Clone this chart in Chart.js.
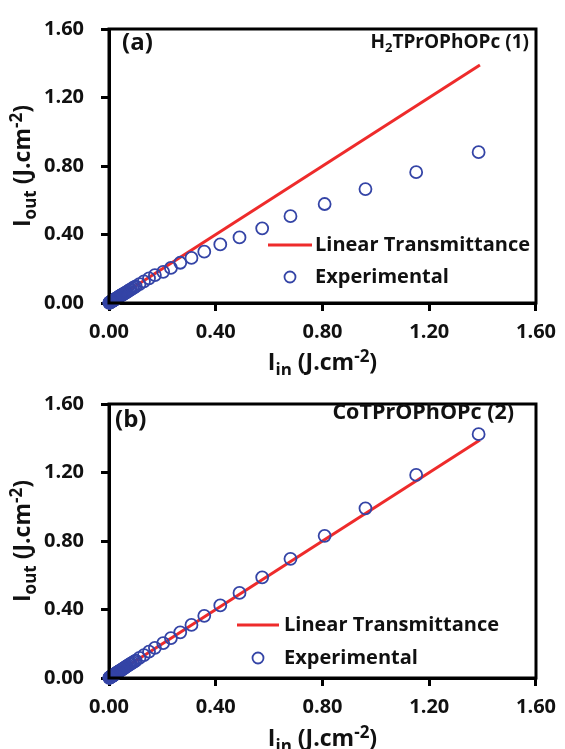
<!DOCTYPE html>
<html>
<head>
<meta charset="utf-8">
<script src="https://cdn.jsdelivr.net/npm/chart.js@4.4.1/dist/chart.umd.min.js"></script>
<style>
  html, body { margin: 0; padding: 0; background: #fff; }
  canvas { display: block; }
</style>
</head>
<body>
<canvas id="chartA" width="565" height="375"></canvas>
<canvas id="chartB" width="565" height="374"></canvas>
<script>
// input fluence (J/cm2), shared by both samples
const inputFluence = [1.385, 1.151, 0.961, 0.808, 0.680, 0.574, 0.489, 0.417, 0.357, 0.309,
  0.267, 0.232, 0.203, 0.172, 0.150, 0.131, 0.114, 0.100, 0.094, 0.088, 0.082, 0.077, 0.072,
  0.067, 0.063, 0.059, 0.055, 0.052, 0.048, 0.045, 0.042, 0.039, 0.036, 0.034, 0.031, 0.029,
  0.027, 0.025, 0.023, 0.021, 0.019, 0.018, 0.016, 0.015, 0.013, 0.012, 0.011, 0.010, 0.009,
  0.008, 0.007, 0.006, 0.005, 0.004, 0.003, 0.002, 0.001];

// output fluence, (a) H2TPrOPhOPc
const outputA = [0.881, 0.764, 0.665, 0.578, 0.507, 0.436, 0.383, 0.342, 0.300, 0.263,
  0.235, 0.205, 0.182, 0.163, 0.144, 0.126, 0.110, 0.097, 0.091, 0.086, 0.080, 0.075, 0.070,
  0.065, 0.061, 0.057, 0.053, 0.050, 0.047, 0.044, 0.041, 0.038, 0.035, 0.033, 0.030, 0.028,
  0.026, 0.024, 0.022, 0.020, 0.018, 0.017, 0.015, 0.014, 0.013, 0.012, 0.011, 0.010, 0.009,
  0.008, 0.007, 0.006, 0.005, 0.004, 0.003, 0.002, 0.001];

// output fluence, (b) CoTPrOPhOPc
const outputB = [1.424, 1.186, 0.991, 0.830, 0.696, 0.588, 0.497, 0.424, 0.363, 0.310,
  0.267, 0.233, 0.204, 0.176, 0.154, 0.134, 0.117, 0.102, 0.096, 0.090, 0.084, 0.079, 0.074,
  0.069, 0.065, 0.060, 0.056, 0.053, 0.049, 0.046, 0.043, 0.040, 0.037, 0.035, 0.032, 0.030,
  0.028, 0.026, 0.024, 0.021, 0.019, 0.018, 0.016, 0.015, 0.013, 0.012, 0.011, 0.010, 0.009,
  0.008, 0.007, 0.006, 0.005, 0.004, 0.003, 0.002, 0.001];

// linear transmittance line
const linearX = [0, 1.39];
const linearY = [0, 1.39];

const tickValues = [0, 0.4, 0.8, 1.2, 1.6];

const FONT = "'Open Sans'";
const RED = "#EE2B2B";
const BLUE = "#3444A6";
const INK = "#111";

const toPoints = (xs, ys) => xs.map((x, i) => ({ x, y: ys[i] }));

// draws text made of normal / sub / sup pieces, centred on (x, y)
function drawRich(ctx, parts, x, y, size) {
  const fontFor = (p) => `bold ${p.s === "n" ? size : Math.round(size * 0.72)}px ${FONT}`;
  let total = 0;
  parts.forEach((p) => {
    ctx.font = fontFor(p);
    p.w = ctx.measureText(p.t).width;
    total += p.w;
  });
  let cx = x - total / 2;
  ctx.textBaseline = "alphabetic";
  ctx.textAlign = "left";
  parts.forEach((p) => {
    ctx.font = fontFor(p);
    let dy = size * 0.36;
    if (p.s === "sub") dy += size * 0.24;
    if (p.s === "sup") dy -= size * 0.38;
    ctx.fillText(p.t, cx, y + dy);
    cx += p.w;
  });
}

const decorations = {
  id: "decorations",
  afterDraw(chart, args, opts) {
    const ctx = chart.ctx;
    const a = chart.chartArea;
    ctx.save();
    // frame on top and right
    ctx.strokeStyle = "#000";
    ctx.lineWidth = 3;
    ctx.strokeRect(a.left, a.top, a.right - a.left, a.bottom - a.top);

    ctx.fillStyle = INK;
    // axis titles
    drawRich(ctx, [{ t: "I", s: "n" }, { t: "in", s: "sub" }, { t: " (J.cm", s: "n" },
      { t: "-2", s: "sup" }, { t: ")", s: "n" }], (a.left + a.right) / 2, opts.xTitleY, 23);
    ctx.save();
    ctx.translate(22, (a.top + a.bottom) / 2);
    ctx.rotate(-Math.PI / 2);
    drawRich(ctx, [{ t: "I", s: "n" }, { t: "out", s: "sub" }, { t: " (J.cm", s: "n" },
      { t: "-2", s: "sup" }, { t: ")", s: "n" }], 0, 0, 23);
    ctx.restore();

    // panel letter
    ctx.font = `bold 24px ${FONT}`;
    ctx.textAlign = "left";
    ctx.textBaseline = "middle";
    ctx.fillText(opts.letter, opts.letterX, opts.letterY);

    // compound name, right aligned
    const big = `bold ${opts.nameSize}px ${FONT}`;
    const sub = `bold ${Math.round(opts.nameSize * 0.7)}px ${FONT}`;
    const parts = opts.name;
    let w = 0;
    parts.forEach((p) => { ctx.font = p.s === "sub" ? sub : big; p.w = ctx.measureText(p.t).width; w += p.w; });
    let nx = opts.nameRight - w;
    ctx.textBaseline = "alphabetic";
    parts.forEach((p) => {
      ctx.font = p.s === "sub" ? sub : big;
      ctx.fillText(p.t, nx, opts.nameY + 7 + (p.s === "sub" ? 4 : 0));
      nx += p.w;
    });

    // legend
    const ds = chart.data.datasets;
    const lg = opts.legend;
    ctx.strokeStyle = ds[0].borderColor;
    ctx.lineWidth = 3;
    ctx.beginPath();
    ctx.moveTo(lg.lineX0, lg.y1);
    ctx.lineTo(lg.lineX1, lg.y1);
    ctx.stroke();
    ctx.strokeStyle = ds[1].borderColor;
    ctx.lineWidth = 1.8;
    ctx.beginPath();
    ctx.arc(lg.dotX, lg.y2, 5.5, 0, Math.PI * 2);
    ctx.stroke();
    ctx.fillStyle = INK;
    ctx.font = `bold 20px ${FONT}`;
    ctx.textBaseline = "middle";
    ctx.fillText(ds[0].label, lg.textX, lg.y1);
    ctx.fillText(ds[1].label, lg.textX, lg.y2);
    ctx.restore();
  },
};

function makeChart(id, outputs, cfg) {
  const axis = (fitFn) => ({
    type: "linear",
    min: 0,
    max: 1.6,
    afterFit: fitFn,
    afterBuildTicks: (scale) => { scale.ticks = tickValues.map((v) => ({ value: v })); },
    ticks: {
      color: INK,
      font: { family: FONT, size: 20, weight: "bold" },
      callback: (v) => Number(v).toFixed(2),
    },
    grid: { drawOnChartArea: false, drawTicks: true, tickLength: 8, color: "#000", lineWidth: 3 },
    border: { display: true, color: "#000", width: 3 },
  });
  const x = axis((s) => { s.height = cfg.xHeight; });
  x.ticks.padding = 9;
  x.ticks.maxRotation = 0;
  const y = axis((s) => { s.width = 109; });
  y.ticks.padding = 17;

  return new Chart(document.getElementById(id), {
    type: "scatter",
    data: {
      datasets: [
        {
          label: "Linear Transmittance",
          data: toPoints(linearX, linearY),
          showLine: true,
          borderColor: RED,
          borderWidth: 3,
          pointRadius: 0,
          order: 2,
        },
        {
          label: "Experimental",
          data: toPoints(inputFluence, outputs),
          borderColor: BLUE,
          backgroundColor: "rgba(0,0,0,0)",
          pointRadius: 6,
          pointBorderWidth: 1.8,
          clip: false,
          order: 1,
        },
      ],
    },
    options: {
      responsive: false,
      animation: false,
      layout: { padding: { top: cfg.top, right: 25, left: 0, bottom: 0 } },
      plugins: {
        legend: { display: false },
        tooltip: { enabled: false },
        decorations: cfg.deco,
      },
      scales: { x, y },
    },
    plugins: [decorations],
  });
}

makeChart("chartA", outputA, {
  top: 19,
  xHeight: 72,
  deco: {
    xTitleY: 362,
    letter: "(a)", letterX: 122, letterY: 43,
    name: [{ t: "H", s: "n" }, { t: "2", s: "sub" }, { t: "TPrOPhOPc (1)", s: "n" }],
    nameSize: 19, nameRight: 529, nameY: 41,
    legend: { lineX0: 268, lineX1: 312, dotX: 290, textX: 315, y1: 245, y2: 277 },
  },
});

makeChart("chartB", outputB, {
  top: 21,
  xHeight: 71,
  deco: {
    xTitleY: 363,
    letter: "(b)", letterX: 115, letterY: 45,
    name: [{ t: "CoTPrOPhOPc (2)", s: "n" }],
    nameSize: 21.5, nameRight: 514, nameY: 37,
    legend: { lineX0: 237, lineX1: 279, dotX: 258, textX: 284, y1: 250, y2: 283 },
  },
});
</script>
</body>
</html>
